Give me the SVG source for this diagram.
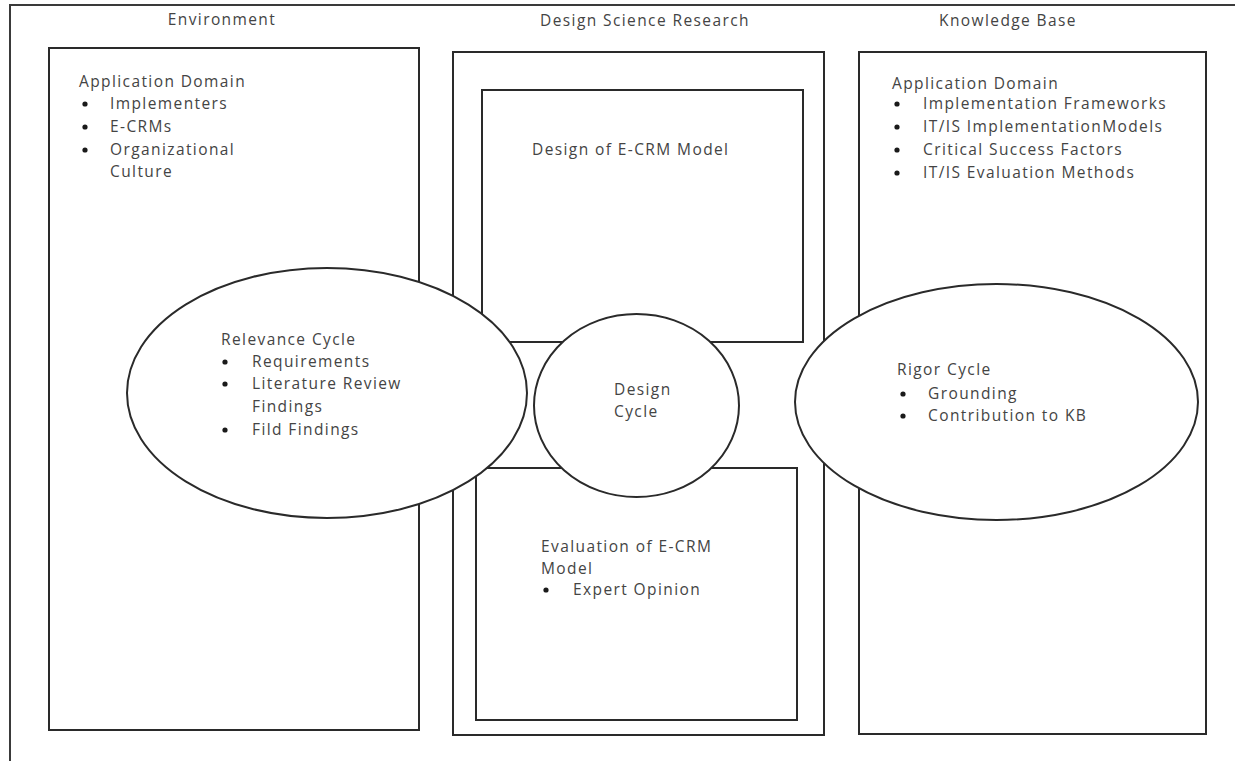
<svg xmlns="http://www.w3.org/2000/svg" width="1235" height="761" viewBox="0 0 1235 761">
  <style>
    .box { fill: #ffffff; stroke: #2a2a2a; stroke-width: 2; }
    .frame { fill: none; stroke: #3a3a3a; stroke-width: 2; }
    .cyc { fill: #ffffff; stroke: #2a2a2a; stroke-width: 2; }
    text { font-family: "Open Sans", "Liberation Sans", sans-serif; font-size: 15.5px; fill: #444444; letter-spacing: 1.4px; }
    .title { text-anchor: middle; }
    .dot { fill: #1a1a1a; }
  </style>

  <!-- outer frame: top rule and left rule -->
  <g id="frame">
    <path class="frame" d="M1235 5 H10 V761"/>
  </g>

  <!-- column headings -->
  <g id="headings">
    <text class="title" x="222" y="25">Environment</text>
    <text class="title" x="645" y="26">Design Science Research</text>
    <text class="title" x="1008" y="26">Knowledge Base</text>
  </g>

  <!-- Environment column -->
  <g id="environment">
    <rect class="box" x="49" y="48" width="370" height="682"/>
    <text x="79" y="87">Application Domain</text>
    <circle class="dot" cx="85" cy="104" r="2.6"/>
    <text x="110" y="109">Implementers</text>
    <circle class="dot" cx="85" cy="127" r="2.6"/>
    <text x="110" y="132">E-CRMs</text>
    <circle class="dot" cx="85" cy="150" r="2.6"/>
    <text x="110" y="155">Organizational</text>
    <text x="110" y="177">Culture</text>
  </g>

  <!-- Design Science Research column -->
  <g id="dsr">
    <rect class="box" x="453" y="52" width="371" height="683"/>
  </g>

  <g id="design-model">
    <rect class="box" x="482" y="90" width="321" height="252"/>
    <text x="532" y="155">Design of E-CRM Model</text>
  </g>

  <g id="evaluation-model">
    <rect class="box" x="476" y="468" width="321" height="252"/>
    <text x="541" y="552">Evaluation of E-CRM</text>
    <text x="541" y="574">Model</text>
    <circle class="dot" cx="546" cy="590" r="2.6"/>
    <text x="573" y="595">Expert Opinion</text>
  </g>

  <!-- Knowledge Base column -->
  <g id="knowledge-base">
    <rect class="box" x="859" y="52" width="347" height="682"/>
    <text x="892" y="89">Application Domain</text>
    <circle class="dot" cx="897" cy="104" r="2.6"/>
    <text x="923" y="109">Implementation Frameworks</text>
    <circle class="dot" cx="897" cy="127" r="2.6"/>
    <text x="923" y="132">IT/IS ImplementationModels</text>
    <circle class="dot" cx="897" cy="150" r="2.6"/>
    <text x="923" y="155">Critical Success Factors</text>
    <circle class="dot" cx="897" cy="173" r="2.6"/>
    <text x="923" y="178">IT/IS Evaluation Methods</text>
  </g>

  <!-- cycles -->
  <g id="relevance-cycle">
    <ellipse class="cyc" cx="327" cy="393" rx="200" ry="125"/>
    <text x="221" y="345">Relevance Cycle</text>
    <circle class="dot" cx="225" cy="362" r="2.6"/>
    <text x="252" y="367">Requirements</text>
    <circle class="dot" cx="225" cy="384" r="2.6"/>
    <text x="252" y="389">Literature Review</text>
    <text x="252" y="412">Findings</text>
    <circle class="dot" cx="225" cy="430" r="2.6"/>
    <text x="252" y="435">Fild Findings</text>
  </g>

  <g id="design-cycle">
    <ellipse class="cyc" cx="636.5" cy="405.5" rx="102.5" ry="91.5"/>
    <text x="614" y="395">Design</text>
    <text x="614" y="417">Cycle</text>
  </g>

  <g id="rigor-cycle">
    <ellipse class="cyc" cx="996.5" cy="402" rx="201.5" ry="118"/>
    <text x="897" y="375">Rigor Cycle</text>
    <circle class="dot" cx="903" cy="394" r="2.6"/>
    <text x="928" y="399">Grounding</text>
    <circle class="dot" cx="903" cy="416" r="2.6"/>
    <text x="928" y="421">Contribution to KB</text>
  </g>

  <g id="connectors"/>
</svg>
